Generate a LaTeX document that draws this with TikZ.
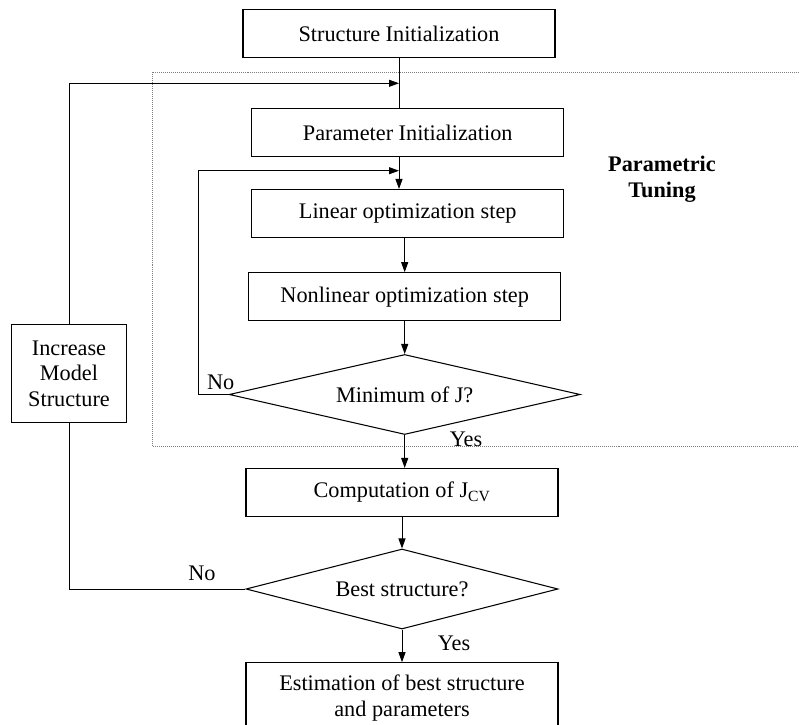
\documentclass[tikz,border=0pt]{standalone}
\usepackage{fontspec}
\setmainfont{Liberation Serif}
\usetikzlibrary{shapes.geometric, arrows.meta}

\tikzset{
  blk/.style={rectangle, draw, line width=0.9pt, minimum width=9.36cm, minimum height=1.44cm, inner sep=2pt},
  dec/.style={diamond, draw, line width=0.9pt, inner sep=0pt, minimum height=2.4cm},
  flow/.style={-{Triangle[length=0.3cm,width=0.21cm]}, line width=0.8pt},
  tuning/.style={draw=gray, dash pattern=on 0.7pt off 1pt, line width=0.7pt},
}

\begin{document}
\begin{tikzpicture}[x=0.03cm, y=-0.03cm, font=\fontsize{19}{22}\selectfont]
  \useasboundingbox (0,0) rectangle (799,725);
  \draw[tuning] (152.7,72.3) rectangle (860,446);

  \node at (399,33.8) [blk] (si) {Structure Initialization};
  \node at (407.7,132.7) [blk] (pi) {Parameter Initialization};
  \node at (407.7,213.5) [blk] (lin) {Linear optimization step};
  \node at (404.7,296.7) [blk] (nlin) {Nonlinear optimization step};
  \node at (404.7,394.5) [dec, aspect=4.39, minimum width=10.53cm] (minj) {Minimum of J?};
  \node at (402,492.5) [blk] (jcv) {Computation of J\textsubscript{CV}};
  \node at (402,589) [dec, aspect=3.9, minimum width=9.36cm] (best) {Best structure?};
  \node at (402,697.7) [blk, minimum height=2.1cm, align=center] (est) {Estimation of best structure\\and parameters};
  \node at (69,373.8) [blk, minimum width=3.46cm, minimum height=2.95cm, align=center] (inc) {Increase\\Model\\Structure};
  \node at (662,179) [align=center, font=\fontsize{19}{22}\selectfont\bfseries] (pt) {Parametric\\Tuning};

  \coordinate (j1) at (399,83.3);
  \coordinate (j2) at (399,170.7);

  \draw[line width=0.8pt] (si.south) -- (si.south |- pi.north);
  \draw[line width=0.8pt] (best.west) -| (inc.south);
  \draw[flow] (inc.north) |- (j1);
  \draw[flow] (j1 |- pi.south) -- (j1 |- lin.north);
  \draw[flow] (minj.west) -- ++(-30,0) |- (j2);
  \draw[flow] (nlin.north |- lin.south) -- (nlin.north);
  \draw[flow] (nlin.south) -- (minj.north);
  \draw[flow] (minj.south) -- (minj.south |- jcv.north);
  \draw[flow] (jcv.south) -- (best.north);
  \draw[flow] (best.south) -- (est.north);

  \node at (220.7,382) (no1) {No};
  \node at (466,439) (yes1) {Yes};
  \node at (202,573) (no2) {No};
  \node at (454,643) (yes2) {Yes};
\end{tikzpicture}
\end{document}
